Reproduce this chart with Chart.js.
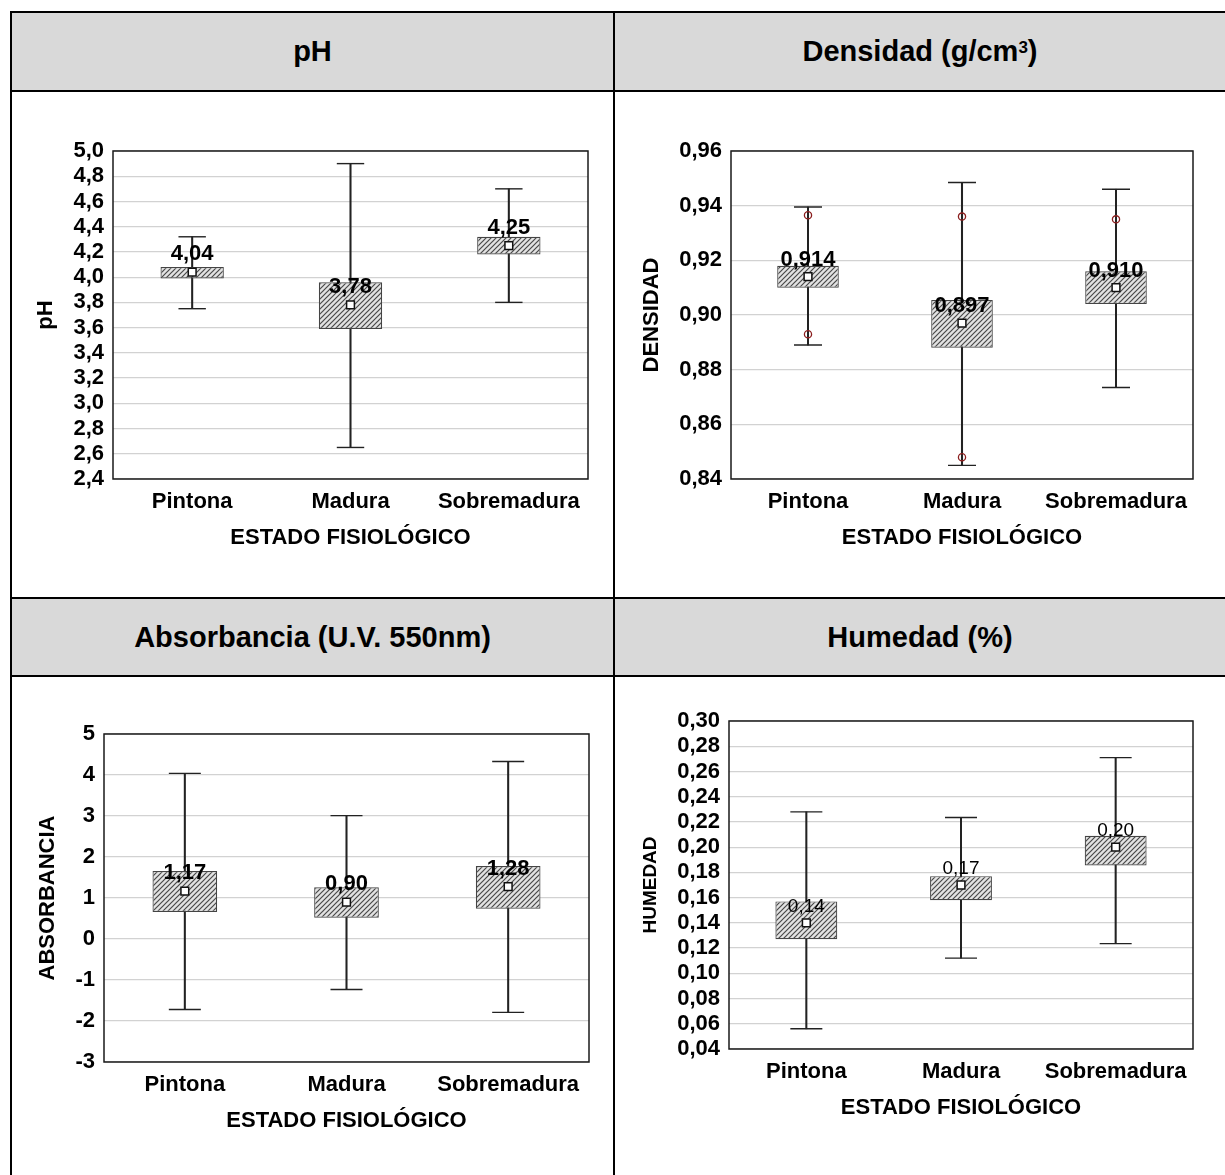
<!DOCTYPE html>
<html lang="es">
<head>
<meta charset="utf-8">
<title>Propiedades por estado fisiológico</title>
<script src="https://cdn.jsdelivr.net/npm/chart.js@4.4.1/dist/chart.umd.min.js"></script>
<style>
  html, body { margin: 0; padding: 0; background: #fff; }
  #page { position: relative; width: 1225px; height: 1175px; overflow: hidden;
          font-family: 'Liberation Sans', Arial, sans-serif; }
  .hdr { position: absolute; background: #d9d9d9; display: flex; align-items: center;
         justify-content: center; font-weight: bold; font-size: 29px; color: #000; }
  .hdr sup { font-size: 17px; position: relative; top: -4px; }
  .hl { position: absolute; height: 2px; background: #000; }
  .vl { position: absolute; width: 2px; background: #000; }
  canvas { position: absolute; }
</style>
</head>
<body>
<div id="page">
  <div class="hdr" style="left:12px;top:13px;width:601px;height:77px">pH</div>
  <div class="hdr" style="left:615px;top:13px;width:610px;height:77px">Densidad (g/cm<sup>3</sup>)</div>
  <div class="hdr" style="left:12px;top:599px;width:601px;height:76px">Absorbancia (U.V. 550nm)</div>
  <div class="hdr" style="left:615px;top:599px;width:610px;height:76px">Humedad (%)</div>

  <div class="hl" style="left:10px;top:11px;width:1215px"></div>
  <div class="hl" style="left:10px;top:90px;width:1215px"></div>
  <div class="hl" style="left:10px;top:597px;width:1215px"></div>
  <div class="hl" style="left:10px;top:675px;width:1215px"></div>
  <div class="vl" style="left:10px;top:11px;height:1164px"></div>
  <div class="vl" style="left:613px;top:11px;height:1164px"></div>

  <canvas id="cPh" width="601" height="504" style="left:12px;top:92px"></canvas>
  <canvas id="cDens" width="610" height="504" style="left:615px;top:92px"></canvas>
  <canvas id="cAbs" width="601" height="498" style="left:12px;top:677px"></canvas>
  <canvas id="cHum" width="610" height="498" style="left:615px;top:677px"></canvas>
</div>

<script>
// ---- categories ----
const categories = ['Pintona', 'Madura', 'Sobremadura'];
const xAxisTitle = 'ESTADO FISIOLÓGICO';

// ---- pH ----
const phWhiskerLow  = [3.75, 2.65, 3.80];
const phWhiskerHigh = [4.32, 4.90, 4.70];
const phBoxLow      = [3.99, 3.59, 4.18];
const phBoxHigh     = [4.08, 3.96, 4.32];
const phMean        = [4.04, 3.78, 4.25];

// ---- densidad ----
const densWhiskerLow  = [0.889, 0.845, 0.8735];
const densWhiskerHigh = [0.9395, 0.9485, 0.946];
const densBoxLow      = [0.910, 0.888, 0.904];
const densBoxHigh     = [0.918, 0.9055, 0.916];
const densMean        = [0.914, 0.897, 0.910];
const densOutlierHigh = [0.9365, 0.936, 0.935];
const densOutlierLow  = [0.893, 0.848, null];

// ---- absorbancia ----
const absWhiskerLow  = [-1.72, -1.23, -1.79];
const absWhiskerHigh = [4.04, 3.01, 4.33];
const absBoxLow      = [0.66, 0.52, 0.74];
const absBoxHigh     = [1.66, 1.26, 1.78];
const absMean        = [1.17, 0.90, 1.28];

// ---- humedad ----
const humWhiskerLow  = [0.056, 0.112, 0.1235];
const humWhiskerHigh = [0.228, 0.2235, 0.271];
const humBoxLow      = [0.127, 0.158, 0.1855];
const humBoxHigh     = [0.157, 0.177, 0.209];
const humMean        = [0.14, 0.17, 0.20];

// ---- y axis ranges ----
const phAxis   = { min: 2.4,  max: 5.0,  step: 0.2,  decimals: 1 };
const densAxis = { min: 0.84, max: 0.96, step: 0.02, decimals: 2 };
const absAxis  = { min: -3,   max: 5,    step: 1,    decimals: 0 };
const humAxis  = { min: 0.04, max: 0.30, step: 0.02, decimals: 2 };

const FONT = "'Liberation Sans', Arial, sans-serif";
const TICK_SIZE = 22;
Chart.defaults.font.family = FONT;
Chart.defaults.color = '#000';
Chart.defaults.animation = false;

const fmt = (v, d) => Number(v).toFixed(d).replace('.', ',');

function hatchPattern(ctx) {
  const c = document.createElement('canvas');
  c.width = 5; c.height = 5;
  const g = c.getContext('2d');
  g.fillStyle = '#e2e2e2';
  g.fillRect(0, 0, 5, 5);
  g.strokeStyle = '#484848';
  g.lineWidth = 1.2;
  g.beginPath();
  g.moveTo(-1, 6); g.lineTo(6, -1);
  g.moveTo(-1, 1); g.lineTo(1, -1);
  g.moveTo(4, 6); g.lineTo(6, 4);
  g.stroke();
  return ctx.createPattern(c, 'repeat');
}

// frame around the plotting area
const framePlugin = {
  id: 'frame',
  beforeDatasetsDraw(chart) {
    const { ctx, chartArea: a } = chart;
    ctx.save();
    ctx.strokeStyle = '#1a1a1a';
    ctx.lineWidth = 1.5;
    ctx.strokeRect(a.left, a.top, a.right - a.left, a.bottom - a.top);
    ctx.restore();
  }
};

function meanLabelPlugin(values, decimals, font, lift) {
  return {
    id: 'meanLabels',
    afterDatasetsDraw(chart) {
      const { ctx } = chart;
      const x = chart.scales.x, y = chart.scales.y;
      ctx.save();
      ctx.font = font;
      ctx.fillStyle = '#000';
      ctx.textAlign = 'center';
      ctx.textBaseline = 'middle';
      values.forEach((v, i) => {
        ctx.fillText(fmt(v, decimals), x.getPixelForValue(i), y.getPixelForValue(v) - lift);
      });
      ctx.restore();
    }
  };
}

function boxChart(id, geo, s) {
  const canvas = document.getElementById(id);
  const ctx = canvas.getContext('2d');
  const W = canvas.width, H = canvas.height;
  const [pl, pt, pr, pb] = geo.plot;
  const yAxisW = pl - geo.left;
  const padTop = pt - geo.top;
  const padRight = W - (pr - geo.left);
  const xAxisH = 76;
  const padBottom = H - (pb - geo.top) - xAxisH;
  const yTitleLH = s.yTitleSize * 1.2;
  const yTitlePad = (geo.yTitleX - geo.left) - yTitleLH / 2;

  const pairs = (lo, hi) => lo.map((v, i) => [v, hi[i]]);
  const datasets = [
    { type: 'bar', data: pairs(s.wLow, s.wHigh), backgroundColor: '#222',
      barThickness: 1.4, grouped: false, order: 6 },
    { type: 'line', data: s.wHigh, showLine: false, pointStyle: 'line',
      pointRadius: s.capR, pointBorderColor: '#222', pointBorderWidth: 1.4, order: 5 },
    { type: 'line', data: s.wLow, showLine: false, pointStyle: 'line',
      pointRadius: s.capR, pointBorderColor: '#222', pointBorderWidth: 1.4, order: 5 },
    { type: 'bar', data: pairs(s.bLow, s.bHigh), backgroundColor: hatchPattern(ctx),
      borderColor: '#444', borderWidth: 1.2, borderSkipped: false,
      barPercentage: 0.4, categoryPercentage: 1, grouped: false, order: 3 },
    { type: 'line', data: s.mean, showLine: false, pointStyle: 'rect',
      pointRadius: 5.5, pointBackgroundColor: '#fff', pointBorderColor: '#111',
      pointBorderWidth: 1.5, order: 1 }
  ];
  (s.outliers || []).forEach(o => datasets.push({
    type: 'line', data: o, showLine: false, pointStyle: 'circle', pointRadius: 3.6,
    pointBackgroundColor: 'rgba(0,0,0,0)', pointBorderColor: '#8b1f1f',
    pointBorderWidth: 1.3, order: 0
  }));

  return new Chart(ctx, {
    type: 'bar',
    data: { labels: categories, datasets },
    options: {
      responsive: false,
      animation: false,
      layout: { padding: { left: 0, top: padTop, right: padRight, bottom: padBottom } },
      plugins: { legend: { display: false }, tooltip: { enabled: false } },
      scales: {
        x: {
          offset: true,
          grid: { display: false, drawTicks: false },
          border: { display: false },
          ticks: { font: { size: TICK_SIZE, weight: 'bold' }, color: '#000', padding: 10,
                   autoSkip: false, maxRotation: 0, minRotation: 0 },
          title: { display: true, text: xAxisTitle, color: '#000',
                   font: { size: TICK_SIZE, weight: 'bold' }, padding: { top: 0, bottom: 4 } },
          afterFit: sc => { sc.height = xAxisH; }
        },
        y: {
          min: s.axis.min, max: s.axis.max,
          grid: { color: '#d2d2d2', lineWidth: 1.3, drawTicks: false },
          border: { display: false },
          ticks: { stepSize: s.axis.step, padding: 9, color: '#000',
                   autoSkip: false, maxTicksLimit: 100,
                   font: { size: TICK_SIZE, weight: 'bold' },
                   callback: v => fmt(v, s.axis.decimals) },
          title: { display: true, text: s.yTitle, color: '#000',
                   font: { size: s.yTitleSize, weight: 'bold' },
                   padding: { top: yTitlePad, bottom: 0 } },
          afterFit: sc => { sc.width = yAxisW; }
        }
      }
    },
    plugins: [framePlugin, meanLabelPlugin(s.mean, s.labelDecimals, s.labelFont, s.labelLift)]
  });
}

boxChart('cPh',
  { left: 12, top: 92, plot: [113, 151, 588, 479], yTitleX: 46 },
  { wLow: phWhiskerLow, wHigh: phWhiskerHigh, bLow: phBoxLow, bHigh: phBoxHigh,
    mean: phMean, axis: phAxis, yTitle: 'pH', yTitleSize: 22, capR: 13.7,
    labelDecimals: 2, labelFont: 'bold 22px ' + FONT, labelLift: 18 });

boxChart('cDens',
  { left: 615, top: 92, plot: [731, 151, 1193, 479], yTitleX: 652 },
  { wLow: densWhiskerLow, wHigh: densWhiskerHigh, bLow: densBoxLow, bHigh: densBoxHigh,
    mean: densMean, axis: densAxis, yTitle: 'DENSIDAD', yTitleSize: 22, capR: 14,
    outliers: [densOutlierHigh, densOutlierLow],
    labelDecimals: 3, labelFont: 'bold 22px ' + FONT, labelLift: 17 });

boxChart('cAbs',
  { left: 12, top: 677, plot: [104, 734, 589, 1062], yTitleX: 48 },
  { wLow: absWhiskerLow, wHigh: absWhiskerHigh, bLow: absBoxLow, bHigh: absBoxHigh,
    mean: absMean, axis: absAxis, yTitle: 'ABSORBANCIA', yTitleSize: 22, capR: 16,
    labelDecimals: 2, labelFont: 'bold 22px ' + FONT, labelLift: 18 });

boxChart('cHum',
  { left: 615, top: 677, plot: [729, 721, 1193, 1049], yTitleX: 651 },
  { wLow: humWhiskerLow, wHigh: humWhiskerHigh, bLow: humBoxLow, bHigh: humBoxHigh,
    mean: humMean, axis: humAxis, yTitle: 'HUMEDAD', yTitleSize: 19, capR: 16,
    labelDecimals: 2, labelFont: '19px ' + FONT, labelLift: 16 });
</script>
</body>
</html>
